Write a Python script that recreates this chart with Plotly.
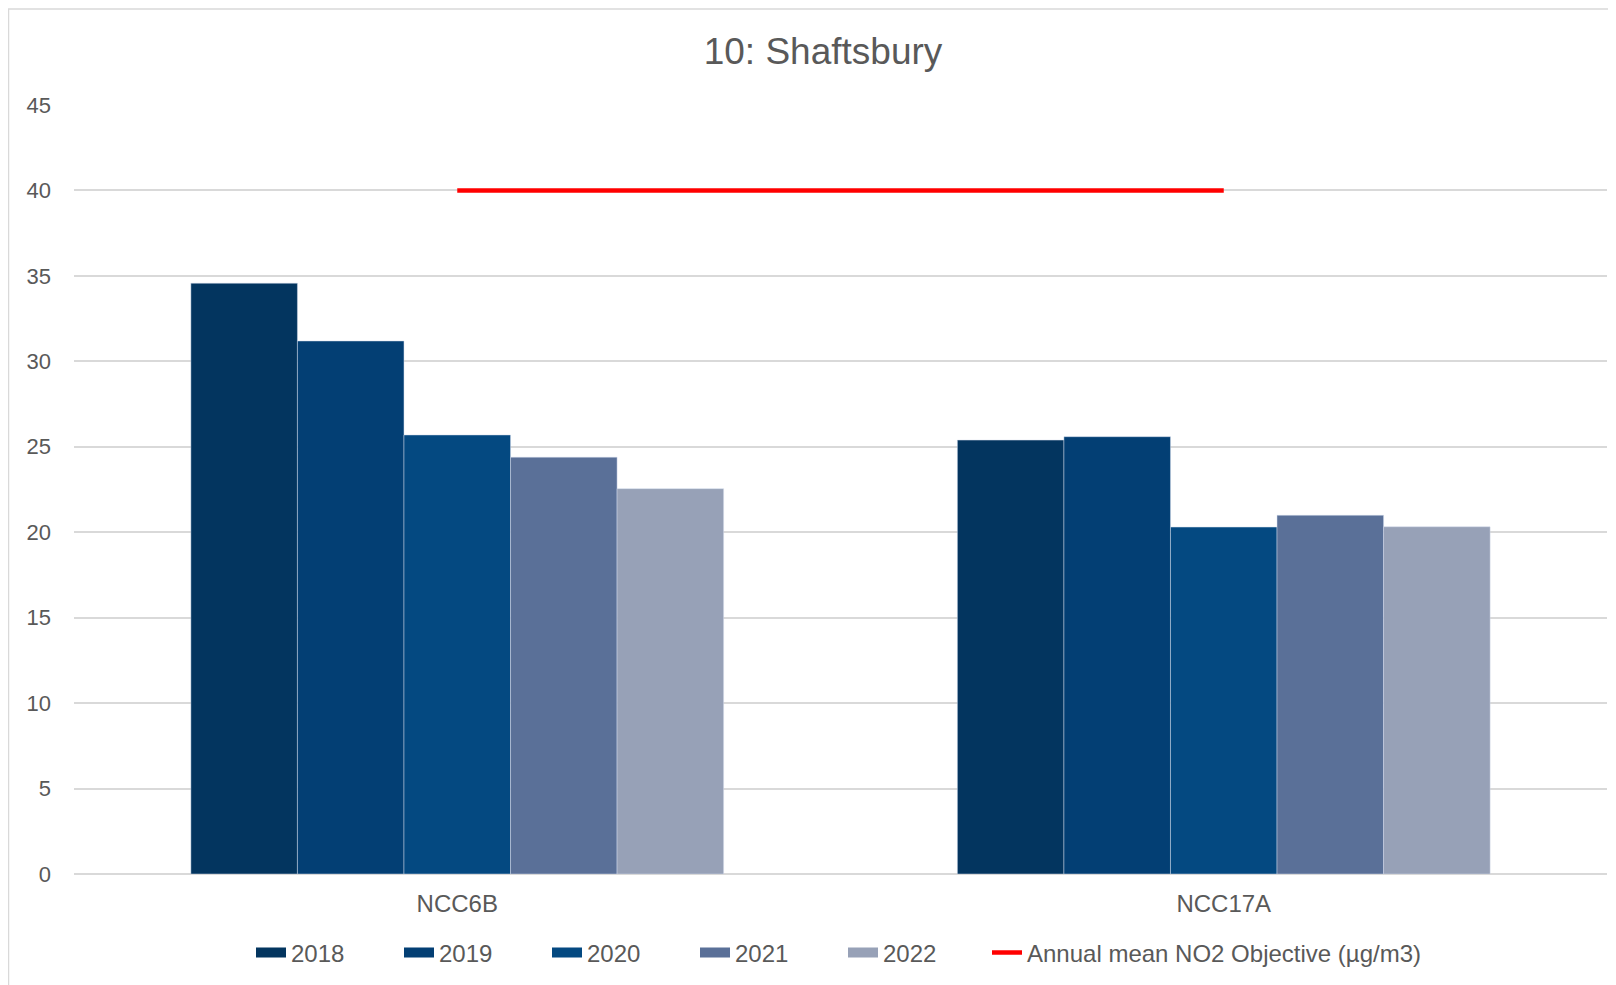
import plotly.graph_objects as go

categories = ["NCC6B", "NCC17A"]
years = ["2018", "2019", "2020", "2021", "2022"]
values_2018 = [34.57, 25.39]
values_2019 = [31.19, 25.59]
values_2020 = [25.69, 20.30]
values_2021 = [24.39, 20.99]
values_2022 = [22.55, 20.32]
objective = [40, 40]
objective_name = "Annual mean NO2 Objective (µg/m3)"
y_ticks = [0, 5, 10, 15, 20, 25, 30, 35, 40, 45]

series = [values_2018, values_2019, values_2020, values_2021, values_2022]
colors = ["#03355F", "#033F74", "#044981", "#5A7098", "#97A1B7"]

# page offset of the figure (body margin) is 8px
OFF = 8
W, H = 1616 - OFF, 985 - OFF
ml, mr, mt, mb = 74 - OFF, 9, 105 - OFF, 111
pw = W - ml - mr
ph = H - mt - mb


def px_x(p):  # page pixel -> paper x
    return (p - OFF - ml) / pw


def px_y(p):  # page pixel -> paper y
    return (H - mb - (p - OFF)) / ph


fig = go.Figure()
for yr, vals, col in zip(years, series, colors):
    fig.add_trace(go.Bar(
        x=categories, y=vals, name=yr, legendgroup=yr, showlegend=False,
        marker=dict(color=col, line=dict(color="rgba(210,220,235,0.8)", width=0.6)),
    ))
    # legend swatch (wide rectangle look) for the series
    fig.add_trace(go.Scatter(
        x=[None], y=[None], name=yr, legendgroup=yr, mode="lines",
        line=dict(color=col, width=12), hoverinfo="skip", legend="legend",
    ))
fig.add_trace(go.Scatter(
    x=categories, y=objective, name=objective_name, mode="lines",
    line=dict(color="#FF0000", width=4.5), legend="legend2",
))

fig.update_layout(
    width=W, height=H,
    margin=dict(l=ml, r=mr, t=mt, b=mb),
    paper_bgcolor="white", plot_bgcolor="white",
    font=dict(family="Liberation Sans, Arial, sans-serif", color="#595959", size=22),
    title=dict(text="10: Shaftsbury", x=(823 - OFF) / W, xref="container", xanchor="center",
               y=1 - (51 - OFF) / H, yref="container", yanchor="middle",
               font=dict(size=37, color="#595959")),
    barmode="group", bargap=0.305, bargroupgap=0,
    showlegend=True,
    legend=dict(orientation="h", x=px_x(251), xanchor="left", y=px_y(953), yanchor="middle",
                font=dict(size=24, color="#595959"), entrywidth=103, traceorder="normal",
                itemclick=False, itemdoubleclick=False),
    legend2=dict(orientation="h", x=px_x(987), xanchor="left", y=px_y(953), yanchor="middle",
                 font=dict(size=24, color="#595959"),
                 itemclick=False, itemdoubleclick=False),
    xaxis=dict(showgrid=False, showline=False, ticks="", tickfont=dict(size=24),
               ticklabelstandoff=13),
    yaxis=dict(range=[0, 45], tickvals=y_ticks, showgrid=True, gridcolor="#D9D9D9",
               gridwidth=1.5, zeroline=True, zerolinecolor="#D9D9D9", zerolinewidth=1.5,
               showline=False, ticks="", ticklabelstandoff=22, tickfont=dict(size=22)),
    shapes=[dict(type="rect", xref="paper", yref="paper",
                 x0=px_x(8.5), x1=px_x(1630), y0=px_y(1000), y1=px_y(9),
                 line=dict(color="#D9D9D9", width=1.5), fillcolor="rgba(0,0,0,0)", layer="below")],
)

fig.write_html("out.html")
